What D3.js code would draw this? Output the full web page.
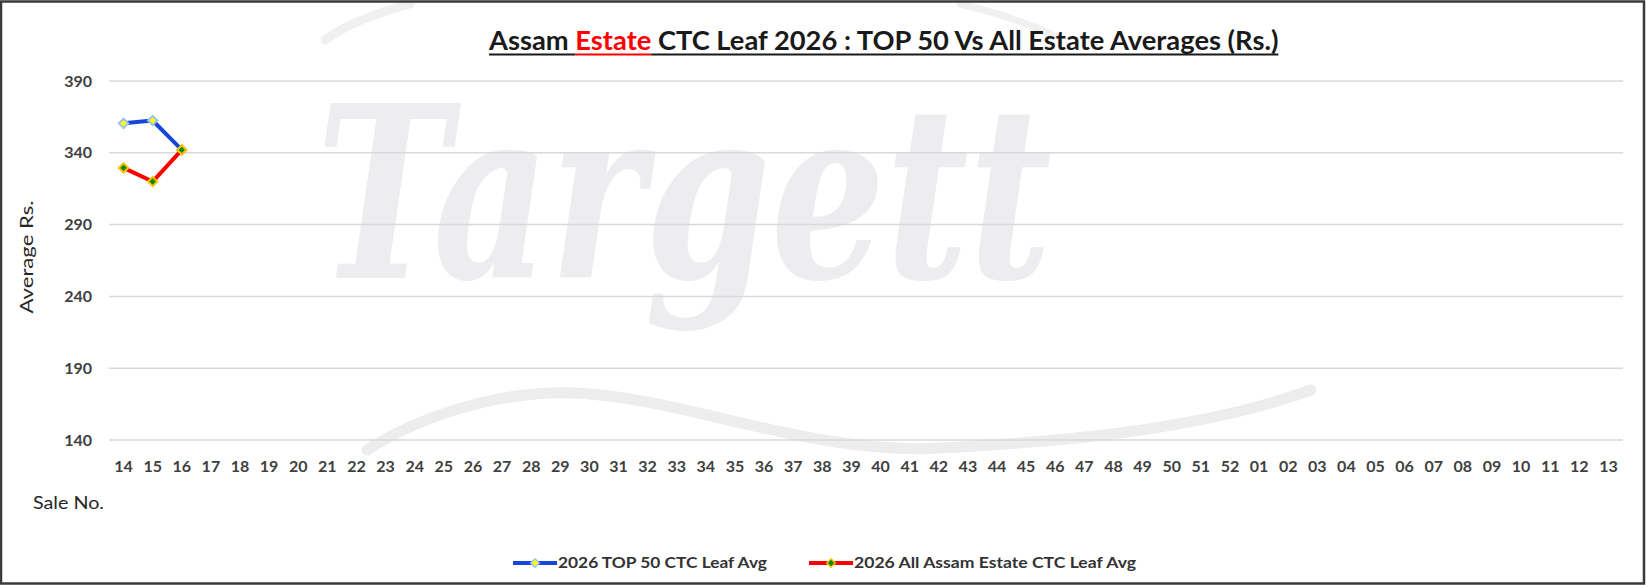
<!DOCTYPE html>
<meta charset="utf-8">
<style>
body { margin: 0; background: #fff; }
svg { display: block; font-family: Lato, "Open Sans", sans-serif; }
.grid line { stroke: #d9d9d9; stroke-width: 1.5; }
.tick-lbl { font-size: 16px; font-weight: 700; fill: #404040; }
</style>
<svg width="1646" height="585"></svg>
<script src="https://cdn.jsdelivr.net/npm/d3@7"></script>
<script>

// sale numbers on the x axis (2026 season runs 14 .. 52, then 01 .. 13)
var sales = ["14","15","16","17","18","19","20","21","22","23","24","25","26","27","28","29","30",
  "31","32","33","34","35","36","37","38","39","40","41","42","43","44","45","46","47","48","49",
  "50","51","52","01","02","03","04","05","06","07","08","09","10","11","12","13"];

// averages, one per sale so far
var top50Avg = [360.5, 362.5, 342];
var allEstateAvg = [329.5, 320, 342];

var yTicks = [140, 190, 240, 290, 340, 390];

var seriesNames = ["2026 TOP 50 CTC Leaf Avg", "2026 All Assam Estate CTC Leaf Avg"];

var svg = d3.select("svg"),
    width = +svg.attr("width"),
    height = +svg.attr("height");

var x = d3.scaleBand()
    .domain(sales)
    .range([109, 1623]);

var y = d3.scaleLinear()
    .domain([140, 390])
    .range([440, 81]);

// faint "Targett" watermark behind everything
var wm = svg.append("g").attr("class", "watermark");
wm.append("path")
    .attr("d", "M367,450 C430,410 520,385 600,395 C700,405 820,455 940,448 C1060,442 1200,430 1311,390")
    .attr("fill", "none")
    .attr("stroke", "#ededed")
    .attr("stroke-width", 11)
    .attr("stroke-linecap", "round");
wm.append("path")
    .attr("d", "M325,40 C350,22 380,12 410,4")
    .attr("fill", "none")
    .attr("stroke", "#f0f0f0")
    .attr("stroke-width", 9)
    .attr("stroke-linecap", "round");
wm.append("path")
    .attr("d", "M960,4 C995,12 1030,24 1055,36")
    .attr("fill", "none")
    .attr("stroke", "#f0f0f0")
    .attr("stroke-width", 7)
    .attr("stroke-linecap", "round");
wm.append("text")
    .attr("x", 316)
    .attr("y", 278)
    .attr("font-family", "'DejaVu Serif', 'Liberation Serif', serif")
    .attr("font-style", "italic")
    .attr("font-weight", "bold")
    .attr("font-size", 240)
    .attr("fill", "#ededf0")
    .attr("textLength", 736)
    .attr("lengthAdjust", "spacingAndGlyphs")
    .text("Targett");

// horizontal gridlines
svg.append("g")
    .attr("class", "grid")
  .selectAll("line")
  .data(yTicks)
  .enter().append("line")
    .attr("x1", x.range()[0])
    .attr("x2", x.range()[1])
    .attr("y1", function(d) { return y(d); })
    .attr("y2", function(d) { return y(d); });

// y axis labels
svg.append("g").selectAll("text")
  .data(yTicks)
  .enter().append("text")
    .attr("class", "tick-lbl")
    .attr("x", 92)
    .attr("y", function(d) { return y(d); })
    .attr("dy", "0.35em")
    .attr("text-anchor", "end")
    .text(function(d) { return d; });

// x axis labels
svg.append("g").selectAll("text")
  .data(sales)
  .enter().append("text")
    .attr("class", "tick-lbl")
    .attr("x", function(d) { return x(d) + x.bandwidth() / 2; })
    .attr("y", 466)
    .attr("dy", "0.35em")
    .attr("text-anchor", "middle")
    .text(function(d) { return d; });

// axis titles
svg.append("text")
    .attr("transform", "translate(33,257) rotate(-90)")
    .attr("text-anchor", "middle")
    .attr("font-size", 17)
    .attr("fill", "#262626")
    .attr("textLength", 113)
    .attr("lengthAdjust", "spacingAndGlyphs")
    .text("Average Rs.");

svg.append("text")
    .attr("x", 33)
    .attr("y", 509)
    .attr("font-size", 17)
    .attr("fill", "#262626")
    .attr("textLength", 71)
    .attr("lengthAdjust", "spacingAndGlyphs")
    .text("Sale No.");

// title: one text, sized to the width it has in the original, underline drawn by hand
var titleParts = ["Assam ", "Estate", " CTC Leaf 2026 : TOP 50 Vs All Estate Averages (Rs.)"];
var titleColors = ["#1a1a1a", "#ff0000", "#1a1a1a"];
var title = svg.append("text")
    .attr("x", 489)
    .attr("y", 50)
    .attr("font-size", 25)
    .attr("font-weight", 700);
title.selectAll("tspan")
  .data(titleParts)
  .enter().append("tspan")
    .attr("fill", function(d, i) { return titleColors[i]; })
    .text(function(d) { return d; });
var tw = title.node().getComputedTextLength();
title.attr("font-size", 25 * 790 / tw);
var cursor = 489;
title.selectAll("tspan").each(function(d, i) {
  var w = this.getComputedTextLength();
  svg.append("line")
      .attr("x1", cursor).attr("x2", cursor + w)
      .attr("y1", 54.5).attr("y2", 54.5)
      .attr("stroke", titleColors[i])
      .attr("stroke-width", 2);
  cursor += w;
});

// series
var series = [
  {name: seriesNames[0], values: top50Avg, color: "#1846d8", fill: "#ffff00", edge: "#9cc3f0"},
  {name: seriesNames[1], values: allEstateAvg, color: "#ff0000", fill: "#0a8a0a", edge: "#ffc000"}
];

var line = d3.line()
    .x(function(d, i) { return x(sales[i]) + x.bandwidth() / 2; })
    .y(function(d) { return y(d); });

var diamond = d3.symbol().type(d3.symbolDiamond2).size(55);

series.forEach(function(s) {
  var g = svg.append("g");
  g.append("path")
      .datum(s.values)
      .attr("fill", "none")
      .attr("stroke", s.color)
      .attr("stroke-width", 4)
      .attr("stroke-linejoin", "round")
      .attr("d", line);
  g.selectAll("path.pt")
    .data(s.values)
    .enter().append("path")
      .attr("class", "pt")
      .attr("d", diamond)
      .attr("transform", function(d, i) {
        return "translate(" + (x(sales[i]) + x.bandwidth() / 2) + "," + y(d) + ")";
      })
      .attr("fill", s.fill)
      .attr("stroke", s.edge)
      .attr("stroke-width", 2);
});

// legend
var legend = svg.append("g").selectAll("g")
  .data(series)
  .enter().append("g")
    .attr("transform", function(d, i) { return "translate(" + [513, 809][i] + ",563)"; });

legend.append("line")
    .attr("x1", 0).attr("x2", 44)
    .attr("stroke", function(d) { return d.color; })
    .attr("stroke-width", 4);
legend.append("path")
    .attr("d", d3.symbol().type(d3.symbolDiamond2).size(45))
    .attr("transform", "translate(22,0)")
    .attr("fill", function(d) { return d.fill; })
    .attr("stroke", function(d) { return d.edge; })
    .attr("stroke-width", 1.5);
legend.append("text")
    .attr("x", 45)
    .attr("dy", "0.35em")
    .attr("font-size", 15)
    .attr("font-weight", 700)
    .attr("fill", "#333")
    .attr("textLength", function(d, i) { return [209, 282][i]; })
    .attr("lengthAdjust", "spacingAndGlyphs")
    .text(function(d) { return d.name; });

// outer frame
svg.append("rect")
    .attr("x", 1).attr("y", 1.5)
    .attr("width", width - 3).attr("height", height - 3)
    .attr("fill", "none")
    .attr("stroke", "#3a3a3a")
    .attr("stroke-width", 2.5);

</script>
